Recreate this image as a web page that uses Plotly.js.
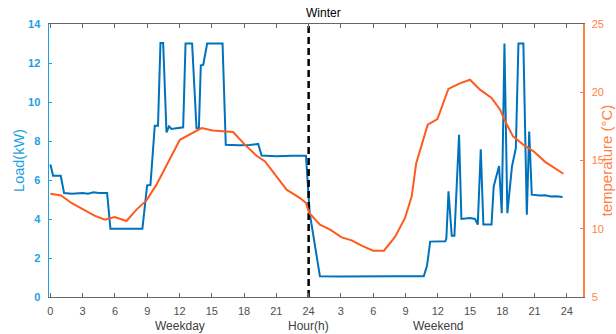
<!DOCTYPE html>
<html>
<head>
<meta charset="utf-8">
<script src="https://cdn.plot.ly/plotly-3.0.1.min.js"></script>
<style>html,body{margin:0;padding:0;background:#fff;}#chart{width:616px;height:334px;}</style>
</head>
<body>
<div id="chart"></div>
<script>
// ---- Data (hour of day) ----
const loadWeekdayHour = [0, 0.25, 0.96, 1.27, 2.0, 3.0, 3.5, 4.0, 4.5, 5.27, 5.58, 6.5, 7.5, 8.0, 8.55, 8.99, 9.3, 9.7, 10.0, 10.23, 10.48, 10.79, 11.03, 11.25, 12.0, 12.34, 12.56, 13.17, 13.58, 13.8, 13.98, 14.2, 14.57, 16.0, 16.3, 17.5, 18.5, 19.31, 19.63, 21.0, 22.5, 23.75];
const loadWeekday     = [6.8, 6.22, 6.22, 5.33, 5.3, 5.33, 5.3, 5.37, 5.33, 5.33, 3.5, 3.5, 3.47, 3.5, 3.5, 5.72, 5.75, 8.78, 8.78, 13.03, 13.03, 8.44, 8.75, 8.62, 8.65, 8.7, 13.0, 13.0, 8.65, 8.65, 11.88, 11.9, 13.0, 13.0, 7.81, 7.78, 7.8, 7.85, 7.26, 7.22, 7.25, 7.25];
const loadWeekendHour = [0.1, 1.05, 3.0, 6.0, 8.0, 9.0, 10.7, 11.0, 11.3, 12.7, 12.8, 13.0, 13.3, 13.55, 13.98, 14.2, 15.0, 15.47, 15.72, 16.0, 16.24, 17.0, 17.2, 17.7, 17.95, 18.2, 18.47, 18.9, 19.26, 19.5, 19.96, 20.28, 20.5, 20.74, 21.5, 22.0, 22.5, 23.0, 23.6];
const loadWeekend     = [4.3, 1.06, 1.05, 1.04, 1.06, 1.07, 1.06, 1.6, 2.84, 2.86, 3.0, 5.42, 3.14, 3.14, 8.32, 4.0, 4.05, 4.0, 3.71, 7.57, 3.72, 3.72, 5.67, 6.72, 4.3, 13.0, 4.3, 6.7, 7.64, 13.0, 13.0, 4.22, 8.49, 5.25, 5.2, 5.22, 5.15, 5.17, 5.13];

const tempWeekdayHour = [0, 1.0, 1.95, 3.0, 4.1, 5.05, 5.98, 7.07, 8.0, 8.93, 9.86, 12.03, 13.1, 14.05, 15.1, 16.98, 18.07, 19.16, 19.95, 20.4, 21.95, 23.2, 23.75];
const tempWeekday     = [12.57, 12.44, 11.89, 11.45, 10.96, 10.66, 10.86, 10.57, 11.4, 12.08, 13.23, 16.52, 17.0, 17.38, 17.2, 17.09, 16.16, 15.35, 14.93, 14.45, 12.86, 12.25, 11.89];
const tempWeekendHour = [0.05, 1.05, 2.0, 3.07, 4.0, 4.93, 6.0, 7.0, 8.03, 8.96, 9.58, 10.0, 11.07, 11.97, 12.99, 14.0, 15.0, 15.93, 17.0, 17.8, 18.35, 19.0, 19.95, 20.9, 21.98, 23.07, 23.68];
const tempWeekend     = [11.15, 10.3, 9.93, 9.37, 9.15, 8.76, 8.39, 8.39, 9.4, 10.79, 12.37, 14.8, 17.62, 18.04, 20.24, 20.63, 20.92, 20.19, 19.58, 18.72, 17.75, 16.77, 16.16, 15.67, 14.9, 14.3, 14.03];

const tickHours = [0, 3, 6, 9, 12, 15, 18, 21, 24];
const dayLabels = ["Weekday", "Hour(h)", "Weekend"];
const tempTitle = 'temperature (°C)';
const dayBoundary = 24;
const hoursPerDay = 24;

// ---- Build continuous two-day series ----
const loadX = loadWeekdayHour.concat(loadWeekendHour.map(h => h + hoursPerDay));
const loadY = loadWeekday.concat(loadWeekend);
const tempX = tempWeekdayHour.concat(tempWeekendHour.map(h => h + hoursPerDay));
const tempY = tempWeekday.concat(tempWeekend);

const tickvals = tickHours.concat(tickHours.slice(1).map(h => h + hoursPerDay));
const ticktext = tickvals.map(v => String(v > hoursPerDay ? v - hoursPerDay : v));

const blueLine = '#0072BD';
const orangeLine = '#FF5A1F';
const blueAxis = '#1E9FE0';
const orangeAxis = '#FF7F45';
const grayAxis = '#666666';
const FONT = 'Liberation Sans, Arial, sans-serif';

const traces = [
  {x: loadX, y: loadY, type: 'scatter', mode: 'lines', yaxis: 'y',
   line: {color: blueLine, width: 2}, hoverinfo: 'skip', showlegend: false},
  {x: tempX, y: tempY, type: 'scatter', mode: 'lines', yaxis: 'y2',
   line: {color: orangeLine, width: 2}, hoverinfo: 'skip', showlegend: false},
  {x: [dayBoundary, dayBoundary], y: [0, 14], type: 'scatter', mode: 'lines', yaxis: 'y',
   line: {color: '#000000', width: 2.5, dash: '7px,4px'}, hoverinfo: 'skip', showlegend: false}
];

const annotations = dayLabels.map((t, i) => ({
  text: t, x: hoursPerDay * (i + 1) / 2, xref: 'x', y: -0.105, yref: 'paper',
  xanchor: 'center', yanchor: 'middle', showarrow: false,
  font: {family: FONT, size: 12, color: '#404040'}
}));
// right-axis title, pushed as close to the page edge as fits
annotations.push({
  text: tempTitle, x: 1, xref: 'paper', xshift: 23, y: 0.5, yref: 'paper',
  xanchor: 'center', yanchor: 'middle', textangle: -90, showarrow: false,
  font: {family: FONT, size: 15, color: orangeAxis}
});

const layout = {
  width: 616, height: 334,
  margin: {l: 49, r: 33, t: 24, b: 37},
  paper_bgcolor: '#ffffff', plot_bgcolor: '#ffffff',
  font: {family: FONT, size: 11, color: '#404040'},
  title: {text: 'Winter', font: {family: FONT, size: 12, color: '#000000'},
          x: 0.5138, xanchor: 'center', y: 0.961, yanchor: 'middle', xref: 'paper'},
  xaxis: {
    range: [-0.13, 49.5], tickvals: tickvals, ticktext: ticktext,
    ticks: 'inside', ticklen: 4, tickcolor: grayAxis, tickwidth: 1,
    showline: true, linecolor: grayAxis, linewidth: 1, mirror: 'ticks',
    showgrid: false, zeroline: false, ticklabelstandoff: 4,
    tickfont: {family: FONT, size: 11, color: '#505050'}
  },
  yaxis: {
    range: [0, 14], dtick: 2, ticks: 'inside', ticklen: 3, tickcolor: blueAxis,
    showline: true, linecolor: blueAxis, linewidth: 1.5,
    showgrid: false, zeroline: false, ticklabelstandoff: 5,
    tickfont: {family: FONT, size: 11, color: blueAxis, weight: 'bold'},
    title: {text: 'Load(kW)', font: {family: FONT, size: 14.5, color: blueAxis}, standoff: 0}
  },
  yaxis2: {
    range: [5, 25], dtick: 5, overlaying: 'y', side: 'right',
    ticks: 'inside', ticklen: 3, tickcolor: orangeAxis,
    showline: true, linecolor: orangeAxis, linewidth: 1.5,
    showgrid: false, zeroline: false, ticklabelstandoff: 5,
    tickfont: {family: FONT, size: 11, color: orangeAxis}
  },
  annotations: annotations
};

Plotly.newPlot('chart', traces, layout, {displayModeBar: false, staticPlot: true});
</script>
</body>
</html>
